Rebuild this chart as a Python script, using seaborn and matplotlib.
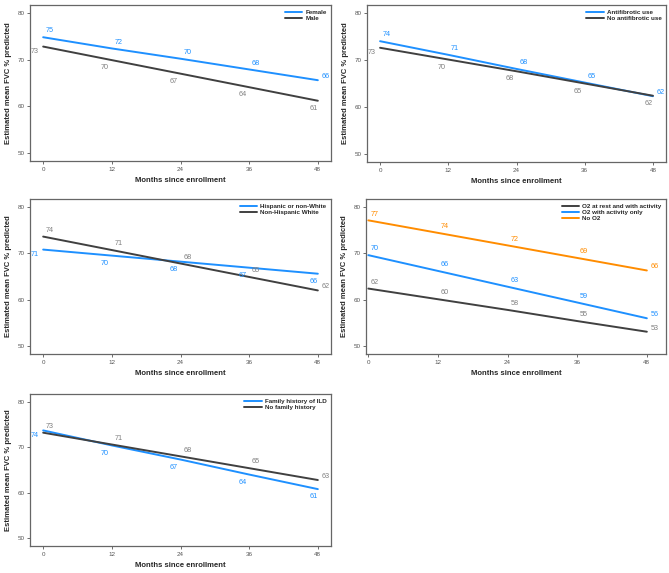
import pandas as pd
import matplotlib.pyplot as plt
import seaborn as sns

# Months at which the model estimates are shown
months = [0, 12, 24, 36, 48]

# Estimated mean FVC % predicted
female = [74.8, 72.4, 70.2, 67.9, 65.6]
male = [72.8, 69.9, 67.0, 64.1, 61.2]

antifibrotic = [74.0, 71.1, 68.1, 65.2, 62.3]
no_antifibrotic = [72.6, 70.1, 67.6, 65.0, 62.4]

hispanic = [70.8, 69.5, 68.2, 66.9, 65.6]
nonhispanic_white = [73.6, 70.7, 67.8, 64.9, 62.0]

o2_rest_activity = [62.4, 60.1, 57.8, 55.4, 53.1]
o2_activity_only = [69.6, 66.2, 62.8, 59.4, 56.0]
no_o2 = [77.1, 74.4, 71.7, 69.0, 66.3]

family_history = [73.7, 70.4, 67.3, 64.0, 60.8]
no_family_history = [73.2, 70.6, 68.0, 65.4, 62.8]

BLUE = "#1e90ff"
GRAY = "#404040"
ORANGE = "#ff8c00"
LABEL_GRAY = "#808080"

panels = [
    # (series list, axes rect in pixels: left, top, right, bottom, xlim)
    ([("Female", female, BLUE, "above"), ("Male", male, GRAY, "below")],
     (30, 5, 331, 161), (-2.3, 50.3)),
    ([("Antifibrotic use", antifibrotic, BLUE, "above"),
      ("No antifibrotic use", no_antifibrotic, GRAY, "below")],
     (367, 5, 666, 162), (-2.3, 50.3)),
    ([("Hispanic or non-White", hispanic, BLUE, "below"),
      ("Non-Hispanic White", nonhispanic_white, GRAY, "above")],
     (30, 199, 331, 354), (-2.3, 50.3)),
    ([("O2 at rest and with activity", o2_rest_activity, GRAY, "above"),
      ("O2 with activity only", o2_activity_only, BLUE, "above"),
      ("No O2", no_o2, ORANGE, "above")],
     (366, 199, 666, 354), (-0.4, 51.3)),
    ([("Family history of ILD", family_history, BLUE, "below"),
      ("No family history", no_family_history, GRAY, "above")],
     (30, 394, 331, 546), (-2.3, 50.3)),
]

sns.set_style("white")
plt.rcParams["font.family"] = ["Liberation Sans", "DejaVu Sans"]

W, H = 669, 573
fig = plt.figure(figsize=(W / 100, H / 100), dpi=100)

for series, (l, t, r, b), xlim in panels:
    ax = fig.add_axes([l / W, 1 - b / H, (r - l) / W, (b - t) / H])
    rows = []
    for name, vals, color, side in series:
        for m, v in zip(months, vals):
            rows.append({"month": m, "fvc": v, "group": name})
    df = pd.DataFrame(rows)
    pal = {name: color for name, vals, color, side in series}
    sns.lineplot(data=df, x="month", y="fvc", hue="group", palette=pal,
                 linewidth=1.4, ax=ax, legend=False)

    # value labels
    for name, vals, color, side in series:
        tcol = LABEL_GRAY if color == GRAY else color
        for i, (m, v) in enumerate(zip(months, vals)):
            if side == "above":
                dx, dy, ha, va = 2, 2, "left", "bottom"
                if i == 4:
                    dx, dy = 3, 0
            else:
                dx, dy, ha, va = -2, -3, "right", "top"
                if i == 0:
                    dx, dy = -3, -1
                if i == 4:
                    dx, dy = 0, -3
            ax.annotate(f"{round(v):d}", (m, v), xytext=(dx, dy),
                        textcoords="offset points", ha=ha, va=va,
                        fontsize=5.2, color=tcol)

    ax.set_xlim(*xlim)
    ax.set_ylim(48.3, 81.7)
    ax.set_xticks(months)
    ax.set_yticks([50, 60, 70, 80])
    ax.tick_params(axis="both", labelsize=4.5, colors="#555555", length=2,
                   width=0.6, direction="out", left=True, bottom=True, pad=2)
    for sp in ax.spines.values():
        sp.set_color("#666666")
        sp.set_linewidth(0.9)
    ax.set_xlabel("Months since enrollment", fontsize=5.5, fontweight="bold",
                  labelpad=4)
    ax.set_ylabel("Estimated mean FVC % predicted", fontsize=5.5,
                  fontweight="bold", labelpad=4)

    handles = [plt.Line2D([], [], color=c, lw=1.4) for n, v, c, s in series]
    labels = [n for n, v, c, s in series]
    leg = ax.legend(handles, labels, loc="upper right", frameon=False,
                    fontsize=4.5, handlelength=2.8, labelspacing=0.15,
                    borderaxespad=0.3, handletextpad=0.5)
    for txt in leg.get_texts():
        txt.set_fontweight("bold")

fig.savefig("out.png", dpi=100)
plt.close(fig)
